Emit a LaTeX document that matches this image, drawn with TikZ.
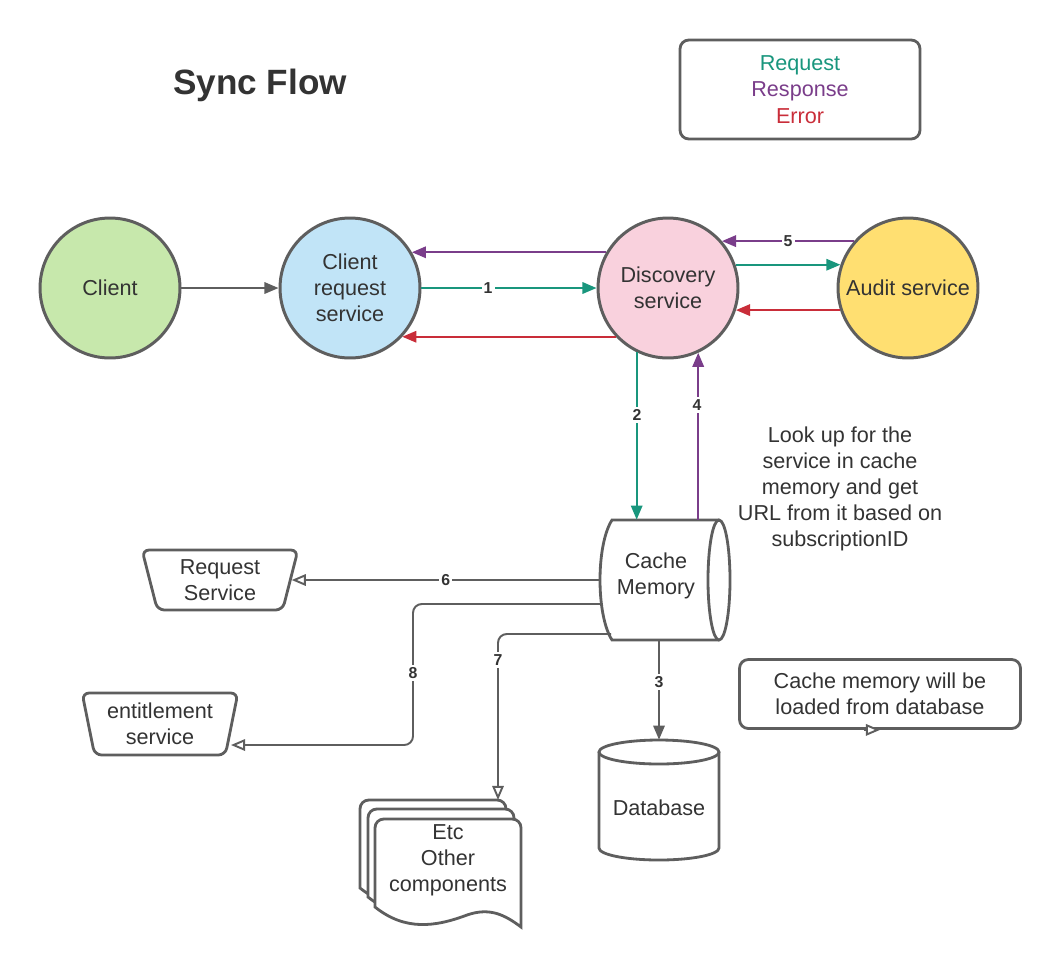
\documentclass[tikz,border=0pt]{standalone}
\usepackage{fontspec}
\setmainfont{Liberation Sans}
\usetikzlibrary{arrows.meta,shapes.geometric,calc}
\definecolor{req}{HTML}{19967D}
\definecolor{resp}{HTML}{7A3D8A}
\definecolor{err}{HTML}{C92D39}
\definecolor{ln}{HTML}{5E5E5E}
\definecolor{txt}{HTML}{333333}
\definecolor{cgreen}{HTML}{C7E8AC}
\definecolor{cblue}{HTML}{C1E4F7}
\definecolor{cpink}{HTML}{F9D1DD}
\definecolor{cyellow}{HTML}{FFDF71}
\begin{document}
\begin{tikzpicture}[x=0.02cm,y=-0.02cm,
  font=\fontsize{12.3}{14.7}\selectfont, text=txt,
  svc/.style={circle, draw=ln, line width=1.7pt, minimum size=2.8cm, inner sep=0pt, align=center},
  conn/.style={line width=1.1pt},
  filltip/.style={-{Triangle[length=8pt,width=6.5pt]}},
  opentip/.style={-{Triangle[open,length=8pt,width=6.5pt,fill=white]}},
  num/.style={fill=white, inner sep=1.2pt, font=\bfseries\fontsize{9}{10}\selectfont, text=txt},
  shp/.style={draw=ln, line width=1.6pt},
  trap/.style={trapezium, trapezium stretches=true, trapezium left angle=77,
    trapezium right angle=77, shape border rotate=180, draw=ln, line width=1.6pt,
    rounded corners=4pt, minimum width=3.12cm, align=center, inner sep=1pt},
  boxed/.style={draw=ln, line width=1.6pt, rounded corners=5pt, align=center}
]
\useasboundingbox (0,0) rectangle (1060,967);

% title and legend
\node[font=\bfseries\fontsize{20}{24}\selectfont] (title) at (260,85) {Sync Flow};
\node[boxed, minimum width=4.8cm, minimum height=1.98cm,
  font=\fontsize{12.3}{15}\selectfont] (legend) at (800,89.5)
  {{\color{req}Request}\\{\color{resp}Response}\\{\color{err}Error}};

% services
\node[svc, fill=cgreen] (client) at (110,288) {Client};
\node[svc, fill=cblue] (crs) at (350,288) {Client\\request\\service};
\node[svc, fill=cpink] (disc) at (668,288) {Discovery\\service};
\node[svc, fill=cyellow] (aud) at (908,288) {Audit service};

% top connectors
\draw[conn, ln, filltip] (client.east) -- (crs.west);
\draw[conn, resp, filltip] (disc.150) -- (crs.30);
\draw[conn, req, filltip] (crs.east) -- node[num, pos=0.38] {1} (disc.west);
\draw[conn, err, filltip] (disc.223) -- (crs.-43);
\draw[conn, resp, filltip] (aud.139) -- node[num, pos=0.5] {5} (disc.41);
\draw[conn, req, filltip] (disc.19) -- (aud.161);
\draw[conn, err, filltip] (aud.198) -- (disc.-18);

% cache memory
\node (cache) at (660,580) [minimum width=2.4cm, minimum height=2.4cm] {};
\draw[shp, fill=white] (719,640) -- (612,640) .. controls (596,615) and (596,545) .. (612,520) -- (719,520);
\draw[shp, fill=white] (719,580) ellipse [x radius=0.22cm, y radius=1.2cm];
\node[align=center] (cachetext) at (656,576) {Cache\\Memory};

\draw[conn, req, filltip] (disc.244) -- (disc.244 |- cache.north);
\node[num] at (637,415) {2};
\draw[conn, resp, filltip] (cache.north -| disc.-65) -- (disc.-65);
\node[num] at (697,405) {4};

\node[align=center] (lookup) at (840,489)
  {Look up for the\\service in cache\\memory and get\\URL from it based on\\subscriptionID};

% request service
\node[trap, minimum height=1.2cm] (rs) at (220,580) {Request\\Service};
\draw[conn, ln, opentip] (cache.west) -- node[num, pos=0.5] {6} (rs.east);

% entitlement service
\node[trap, minimum height=1.24cm] (ent) at (160,724) {entitlement\\service};
\coordinate (c8) at (602,604);
\coordinate (e8) at (231,745);
\draw[conn, ln, opentip, rounded corners=5pt] (c8) -- (413,604) -- (413,745) -- (e8);
\node[num] at (413,673) {8};

% other components (multiple documents)
\foreach \dx/\dy in {-15/-19,-7/-10,0/0}{
  \begin{scope}[shift={(375+\dx,819+\dy)}]
    \draw[shp, fill=white, rounded corners=5pt] (0,88) -- (0,0) -- (146,0)
      [sharp corners] -- (146,108) .. controls (130,96) and (115,88) .. (92,96)
      .. controls (60,108) and (30,112) .. (0,88) -- cycle;
  \end{scope}
}
\node[align=center] (etc) at (448,860) {Etc\\Other\\components};
\coordinate (c7) at (611,634);
\coordinate (e7) at (498,800);
\draw[conn, ln, opentip, rounded corners=5pt] (c7) -- (498,634) -- (e7);
\node[num] at (498,660) {7};

% database
\node (db) at (659,800) [minimum width=2.4cm, minimum height=2.4cm] {};
\draw[shp, fill=white] (599,752) -- (599,848)
  arc[start angle=180, end angle=360, x radius=1.2cm, y radius=0.24cm] -- (719,752);
\draw[shp, fill=white] (659,752) ellipse [x radius=1.2cm, y radius=0.24cm];
\node (dbtext) at (659,808) {Database};
\draw[conn, ln, filltip] (cache.south -| db.north) -- node[num, pos=0.42] {3} (db.north);

% note
\node[boxed, minimum width=5.62cm, minimum height=1.38cm] (note) at (880,694)
  {Cache memory will be\\loaded from database};
\draw[conn, ln, opentip] ([xshift=-0.32cm]note.south) -- (note.south);
\end{tikzpicture}
\end{document}
